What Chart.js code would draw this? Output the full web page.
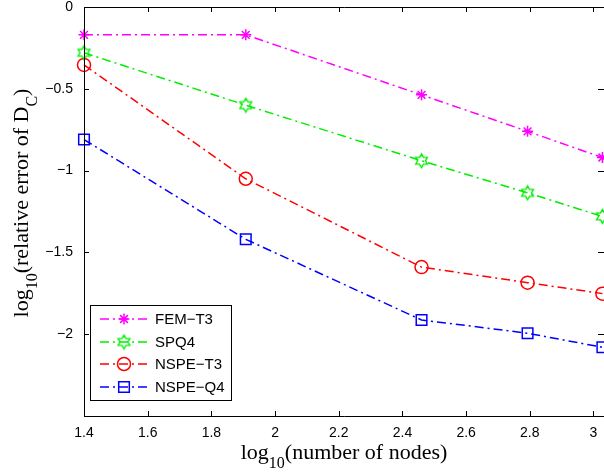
<!DOCTYPE html>
<html>
<head>
<meta charset="utf-8">
<script src="https://cdn.jsdelivr.net/npm/chart.js@4"></script>
<style>
  html, body { margin: 0; padding: 0; background: #fff; }
  #wrap { width: 604px; height: 474px; position: relative; }
</style>
</head>
<body>
<div id="wrap"><canvas id="c"></canvas></div>
<script>
// log10(number of nodes)
var NODES = [1.4, 1.908, 2.46, 2.793, 3.028];
var FEM_T3 = [-0.17, -0.17, -0.537, -0.76, -0.92];
var SPQ4 = [-0.28, -0.60, -0.94, -1.136, -1.28];
var NSPE_T3 = [-0.354, -1.05, -1.59, -1.685, -1.752];
var NSPE_Q4 = [-0.81, -1.42, -1.913, -1.994, -2.08];
var XTICKS = [1.4, 1.6, 1.8, 2.0, 2.2, 2.4, 2.6, 2.8, 3.0];
var YTICKS = [0, -0.5, -1, -1.5, -2, -2.5];
var NAMES = ['FEM\u2212T3', 'SPQ4', 'NSPE\u2212T3', 'NSPE\u2212Q4'];

var DASH = [9, 4, 2, 4];
var SANS = "'Liberation Sans', Arial, sans-serif";
var SERIF = "'Liberation Serif', 'Times New Roman', serif";

function hexagram(color) {
    var cv = document.createElement('canvas');
    cv.width = 17; cv.height = 17;
    var g = cv.getContext('2d');
    var R = 6.8, r = R / Math.sqrt(3);
    g.beginPath();
    for (var i = 0; i < 12; i++) {
        var a = -Math.PI / 2 + i * Math.PI / 6;
        var rr = (i % 2 === 0) ? R : r;
        var px = 8.5 + rr * Math.cos(a), py = 8.5 + rr * Math.sin(a);
        if (i === 0) g.moveTo(px, py); else g.lineTo(px, py);
    }
    g.closePath();
    g.strokeStyle = color;
    g.lineWidth = 1.4;
    g.stroke();
    return cv;
}

function pts(ys) {
    return NODES.map(function (x, i) { return { x: x, y: ys[i] }; });
}

function ds(label, ys, color, style, radius) {
    return {
        label: label, data: pts(ys),
        borderColor: color, backgroundColor: 'transparent',
        borderWidth: 1.5, borderDash: DASH,
        pointStyle: style, pointRadius: radius, pointHoverRadius: radius,
        pointBorderColor: color, pointBackgroundColor: 'transparent', pointBorderWidth: 1.5,
        tension: 0, clip: false
    };
}

function drawRich(ctx, parts, x, y, size, subSize) {
    // parts: [text, isSub]
    var total = 0;
    parts.forEach(function (p) {
        ctx.font = (p[1] ? subSize : size) + 'px ' + SERIF;
        total += ctx.measureText(p[0]).width;
    });
    var cx = x - total / 2;
    ctx.textAlign = 'left';
    ctx.textBaseline = 'alphabetic';
    parts.forEach(function (p) {
        ctx.font = (p[1] ? subSize : size) + 'px ' + SERIF;
        ctx.fillText(p[0], cx, y + (p[1] ? 9 : 0));
        cx += ctx.measureText(p[0]).width;
    });
}

var frame = {
    id: 'frame',
    afterDraw: function (chart) {
        var ctx = chart.ctx, a = chart.chartArea;
        var xs = chart.scales.x, ys = chart.scales.y;
        ctx.save();
        ctx.strokeStyle = '#000';
        ctx.lineWidth = 1;
        ctx.beginPath();
        ctx.moveTo(a.right, a.top + 0.5);
        ctx.lineTo(a.left + 0.5, a.top + 0.5);
        ctx.lineTo(a.left + 0.5, a.bottom + 0.5);
        ctx.lineTo(a.right, a.bottom + 0.5);
        ctx.stroke();
        // inside ticks
        ctx.beginPath();
        XTICKS.forEach(function (v) {
            var px = Math.round(xs.getPixelForValue(v)) + 0.5;
            ctx.moveTo(px, a.bottom); ctx.lineTo(px, a.bottom - 5);
            ctx.moveTo(px, a.top); ctx.lineTo(px, a.top + 5);
        });
        YTICKS.forEach(function (v) {
            var py = Math.round(ys.getPixelForValue(v)) + 0.5;
            ctx.moveTo(a.left, py); ctx.lineTo(a.left + 5, py);
            ctx.moveTo(a.right, py); ctx.lineTo(a.right - 6, py);
        });
        ctx.stroke();

        // axis titles
        ctx.fillStyle = '#000';
        drawRich(ctx, [['log', 0], ['10', 1], ['(number of nodes)', 0]], (a.left + a.right) / 2, 459, 22, 16);
        ctx.save();
        ctx.translate(28, 203);
        ctx.rotate(-Math.PI / 2);
        drawRich(ctx, [['log', 0], ['10', 1], ['(relative error of D', 0], ['C', 1], [')', 0]], 0, 0, 22, 16);
        ctx.restore();

        // legend
        var bx = 90.5, by = 305.5, bw = 141, bh = 95;
        ctx.fillStyle = '#fff';
        ctx.fillRect(bx, by, bw, bh);
        ctx.strokeStyle = '#000';
        ctx.lineWidth = 1;
        ctx.strokeRect(bx, by, bw, bh);
        var rows = [319, 342, 364, 387];
        chart.data.datasets.forEach(function (d, i) {
            var y = rows[i];
            ctx.save();
            ctx.strokeStyle = d.borderColor;
            ctx.fillStyle = 'rgba(0,0,0,0)';
            ctx.lineWidth = 1.5;
            ctx.setLineDash(DASH);
            ctx.beginPath();
            ctx.moveTo(100, y); ctx.lineTo(147, y);
            ctx.stroke();
            ctx.setLineDash([]);
            Chart.helpers.drawPoint(ctx, {
                pointStyle: d.pointStyle, radius: d.pointRadius, borderWidth: 1.5, rotation: 0
            }, 124, y);
            ctx.restore();
            ctx.fillStyle = '#000';
            ctx.font = '15px ' + SANS;
            ctx.textAlign = 'left';
            ctx.textBaseline = 'middle';
            ctx.fillText(d.label, 155, y + 1);
        });
        ctx.restore();
    }
};

var chart = new Chart(document.getElementById('c'), {
    type: 'line',
    data: {
        datasets: [
            ds(NAMES[0], FEM_T3, '#ff00ff', 'star', 5.5),
            ds(NAMES[1], SPQ4, '#00ee00', hexagram('#00ee00'), 7),
            ds(NAMES[2], NSPE_T3, '#ff0000', 'circle', 6.5),
            ds(NAMES[3], NSPE_Q4, '#0000ff', 'rect', 7.5)
        ]
    },
    options: {
        responsive: true,
        maintainAspectRatio: false,
        animation: false,
        layout: { autoPadding: false, padding: { top: 7, left: 0, right: 0, bottom: 0 } },
        plugins: { legend: { display: false }, tooltip: { enabled: false } },
        scales: {
            x: {
                type: 'linear', min: 1.4, max: 3.033,
                afterBuildTicks: function (s) { s.ticks = XTICKS.map(function (v) { return { value: v }; }); },
                afterFit: function (s) { s.height = 58; s.paddingLeft = 0; s.paddingRight = 0; },
                grid: { display: false, drawTicks: false },
                border: { display: false },
                ticks: {
                    padding: 9, color: '#000', maxRotation: 0, autoSkip: false,
                    font: { size: 14, family: SANS },
                    callback: function (v) { return String(Math.round(v * 10) / 10); }
                }
            },
            y: {
                type: 'linear', min: -2.5, max: 0,
                afterBuildTicks: function (s) { s.ticks = YTICKS.map(function (v) { return { value: v }; }); },
                afterFit: function (s) { s.width = 84; s.paddingTop = 0; s.paddingBottom = 0; },
                grid: { display: false, drawTicks: false },
                border: { display: false },
                ticks: {
                    padding: 11, color: '#000',
                    font: { size: 14, family: SANS },
                    callback: function (v) {
                        if (v === -2.5) return '';
                        return v === 0 ? '0' : '\u2212' + String(Math.abs(v));
                    }
                }
            }
        }
    },
    plugins: [frame]
});
</script>
</body>
</html>
